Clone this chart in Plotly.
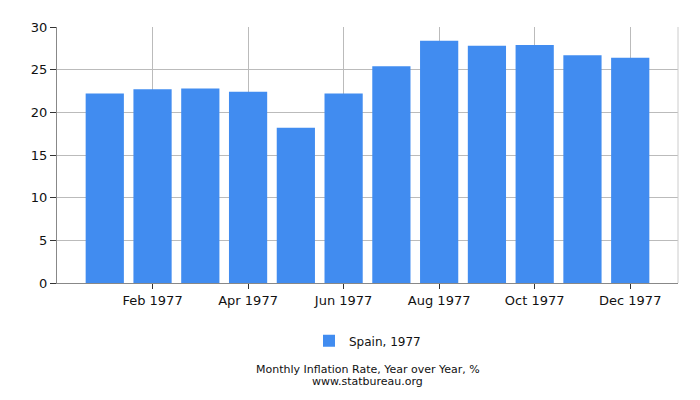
import plotly.graph_objects as go

months = ["Jan 1977", "Feb 1977", "Mar 1977", "Apr 1977", "May 1977", "Jun 1977",
          "Jul 1977", "Aug 1977", "Sep 1977", "Oct 1977", "Nov 1977", "Dec 1977"]
inflation = [22.2, 22.7, 22.8, 22.4, 18.2, 22.2, 25.4, 28.4, 27.8, 27.9, 26.7, 26.4]
tick_months = ["Feb 1977", "Apr 1977", "Jun 1977", "Aug 1977", "Oct 1977", "Dec 1977"]
y_ticks = [0, 5, 10, 15, 20, 25, 30]

font = "DejaVu Sans, Verdana, sans-serif"

fig = go.Figure(go.Bar(x=months, y=inflation, name="Spain, 1977",
                       marker_color="#418cf0", marker_line_width=0))

# page body has an 8px margin, so the figure is shifted by 8px
fig.update_layout(
    width=692, height=392,
    margin=dict(l=49, r=22, t=14, b=117),
    plot_bgcolor="white", paper_bgcolor="white",
    font=dict(family=font, size=13, color="#111"),
    bargap=0.2,
    showlegend=True,
    legend=dict(orientation="h", x=0.5, xanchor="center", y=-0.226, yanchor="middle",
                font=dict(size=12)),
    xaxis=dict(type="category", range=[-1, 12], tickvals=tick_months,
               showgrid=True, gridcolor="#bbbbbb", ticks="outside", ticklen=5,
               tickcolor="#333", showline=True, linecolor="#888",
               tickfont=dict(size=13)),
    yaxis=dict(range=[0, 30], tickvals=y_ticks, showgrid=True, gridcolor="#bbbbbb",
               ticks="outside", ticklen=6, tickcolor="#333", showline=True,
               linecolor="#888", zeroline=False, tickfont=dict(size=13)),
)

# right border, lighter gray
fig.add_shape(type="line", xref="paper", yref="paper", x0=1, x1=1, y0=0, y1=1,
              line=dict(color="#cccccc", width=1))
fig.add_annotation(text="Monthly Inflation Rate, Year over Year, %",
                   x=0.5, xref="paper", y=(283 - 371) / 261, yref="paper",
                   yanchor="middle", showarrow=False, font=dict(size=11))
fig.add_annotation(text="www.statbureau.org",
                   x=0.5, xref="paper", y=(283 - 383) / 261, yref="paper",
                   yanchor="middle", showarrow=False, font=dict(size=11))

fig.write_html("out.html")
